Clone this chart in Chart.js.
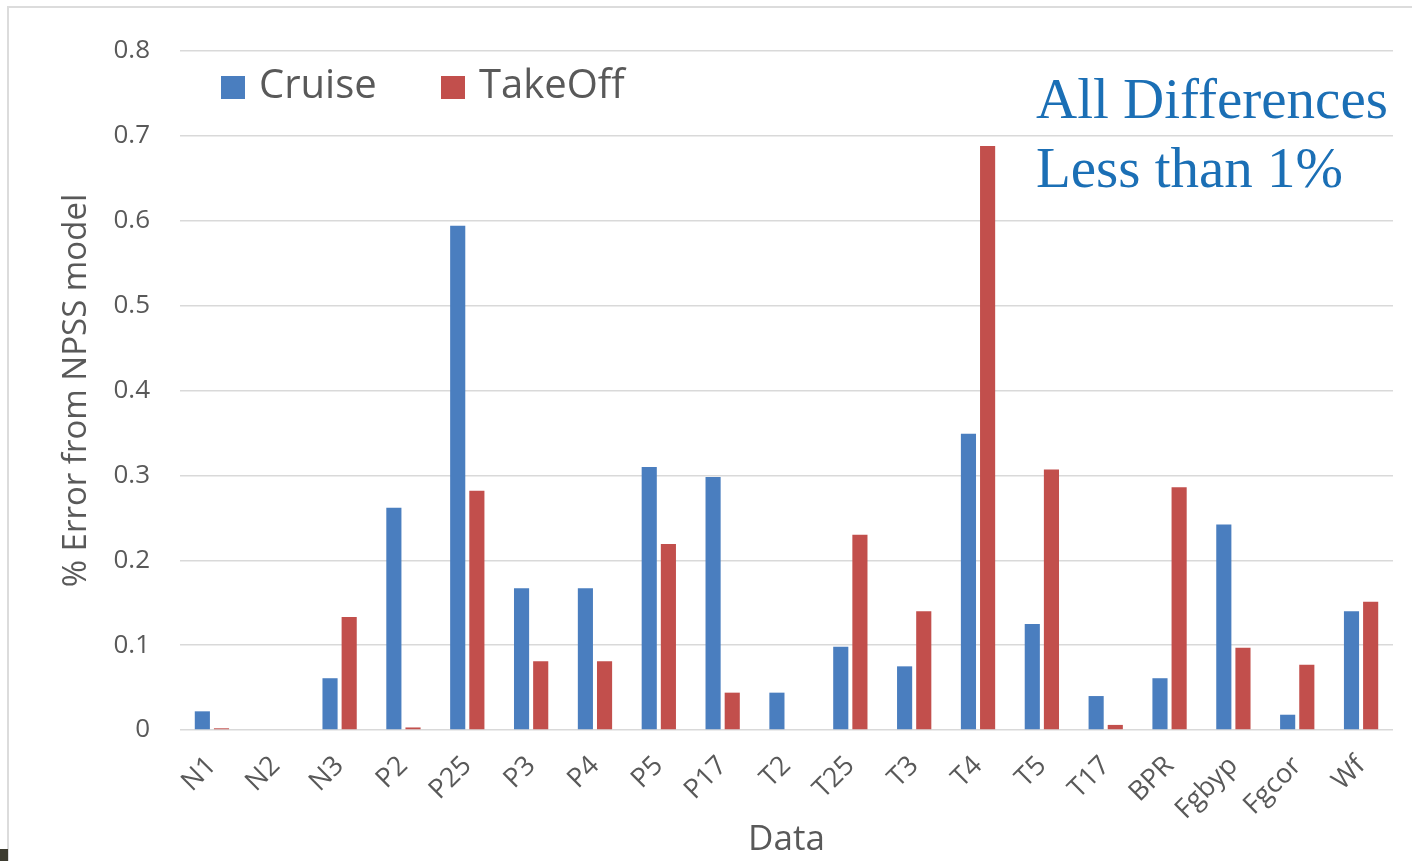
<!DOCTYPE html>
<html>
<head>
<meta charset="utf-8">
<script src="https://cdn.jsdelivr.net/npm/chart.js@4/dist/chart.umd.min.js"></script>
<style>
  html, body { margin: 0; padding: 0; background: #ffffff; overflow: hidden; }
  #wrap { position: relative; width: 1412px; height: 861px; }
  #frame { position: absolute; left: 7px; top: 6px; width: 1420px; height: 880px; border: 2px solid #dcdcdc; box-sizing: border-box; pointer-events: none; }
  #corner { position: absolute; left: 0; top: 849px; width: 8px; height: 12px; background: #3d3c30; }
  canvas { position: absolute; left: 0; top: 0; }
</style>
</head>
<body>
<div id="wrap">
  <div id="frame"></div>
  <div id="corner"></div>
  <canvas id="c" width="1412" height="861"></canvas>
</div>
<script>
const categories = ["N1","N2","N3","P2","P25","P3","P4","P5","P17","T2","T25","T3","T4","T5","T17","BPR","Fgbyp","Fgcor","Wf"];
const cruise  = [0.022, 0, 0.061, 0.262, 0.594, 0.167, 0.167, 0.310, 0.298, 0.044, 0.098, 0.075, 0.349, 0.125, 0.040, 0.061, 0.242, 0.018, 0.140];
const takeoff = [0.002, 0, 0.133, 0.003, 0.282, 0.081, 0.081, 0.219, 0.044, 0, 0.230, 0.140, 0.688, 0.307, 0.006, 0.286, 0.097, 0.077, 0.151];
const seriesNames = ["Cruise", "TakeOff"];
const yTitle = "% Error from NPSS model";
const xTitle = "Data";
const noteLines = ["All Differences", "Less than 1%"];

const BLUE = "#4A7EBF";
const RED = "#C24F4C";
const GREY = "#595959";
const SANS = "'Open Sans', 'Noto Sans', sans-serif";

const legendPlugin = {
  id: "insideLegend",
  afterDraw(chart) {
    const ctx = chart.ctx;
    ctx.save();
    const items = [{x: 221, color: BLUE}, {x: 441, color: RED}];
    ctx.font = "40px " + SANS;
    ctx.textBaseline = "middle";
    ctx.textAlign = "left";
    chart.data.datasets.forEach((ds, i) => {
      const it = items[i];
      ctx.fillStyle = ds.backgroundColor;
      ctx.fillRect(it.x, 76, 24, 23);
      ctx.fillStyle = GREY;
      ctx.fillText(ds.label, it.x + 38, 87);
    });
    ctx.font = "57px 'Liberation Serif', 'Times New Roman', serif";
    ctx.fillStyle = "#1B6FB5";
    ctx.textBaseline = "alphabetic";
    ctx.fillText(noteLines[0], 1036, 118);
    ctx.fillText(noteLines[1], 1036, 187);
    ctx.restore();
  }
};

new Chart(document.getElementById("c"), {
  type: "bar",
  data: {
    labels: categories,
    datasets: [
      { label: seriesNames[0], data: cruise, backgroundColor: BLUE },
      { label: seriesNames[1], data: takeoff, backgroundColor: RED }
    ]
  },
  options: {
    responsive: false,
    animation: false,
    datasets: { bar: { categoryPercentage: 0.6, barPercentage: 0.79 } },
    layout: { padding: { left: 0, top: 51, right: 19, bottom: 0 } },
    plugins: {
      legend: { display: false },
      tooltip: { enabled: false }
    },
    scales: {
      x: {
        grid: { display: false, drawTicks: false },
        border: { display: false },
        ticks: {
          color: GREY,
          font: { family: SANS, size: 27 },
          minRotation: 45,
          maxRotation: 45,
          padding: 20,
          autoSkip: false
        },
        title: {
          display: true,
          text: xTitle,
          color: GREY,
          font: { family: SANS, size: 35 },
          padding: { top: 0, bottom: 0 }
        },
        afterFit(scale) { scale.height = 131; }
      },
      y: {
        min: 0,
        max: 0.8,
        grid: { color: "#d9d9d9", lineWidth: 1.5, drawTicks: false },
        border: { display: false },
        ticks: {
          stepSize: 0.1,
          color: GREY,
          font: { family: SANS, size: 26 },
          padding: 30
        },
        title: {
          display: true,
          text: yTitle,
          color: GREY,
          font: { family: SANS, size: 33 },
          padding: { top: 57, bottom: 0 }
        },
        afterFit(scale) { scale.width = 180; }
      }
    }
  },
  plugins: [legendPlugin]
});
</script>
</body>
</html>
